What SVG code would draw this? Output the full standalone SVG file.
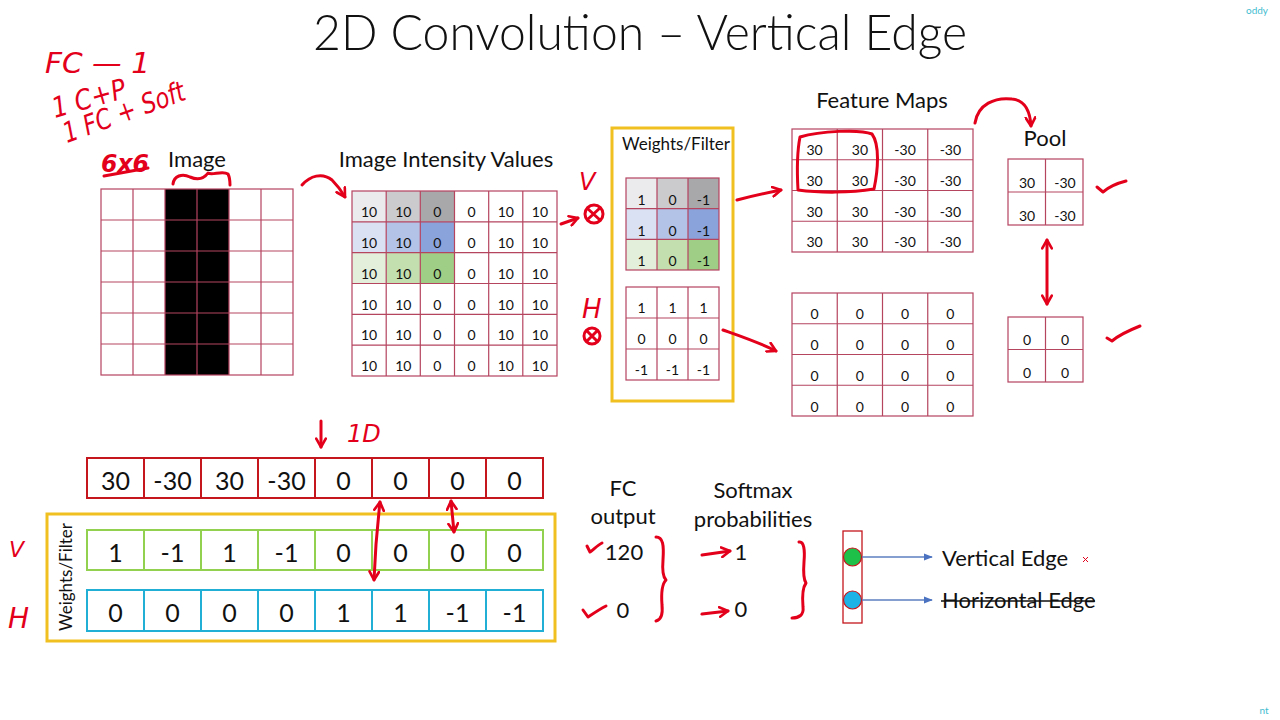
<svg xmlns="http://www.w3.org/2000/svg" width="1280" height="720" viewBox="0 0 1280 720">
<defs>
<style>
.t{font-family:Lato,"Liberation Sans",sans-serif;fill:#111;}
.lbl{font-size:22px;text-anchor:middle;}
.sm{font-size:14px;text-anchor:middle;}
.big{font-size:25px;text-anchor:middle;}
.grid{fill:none;stroke:#b5445f;stroke-width:1.2;}
.hw{fill:none;stroke:#e3001b;stroke-width:3;stroke-linecap:round;stroke-linejoin:round;}
.hwt{font-family:"DejaVu Sans","Liberation Sans",sans-serif;fill:#e3001b;font-style:oblique;}
.yb{fill:none;stroke:#f0c020;stroke-width:3;}
.r1d{fill:#fff;stroke:#c4161c;stroke-width:2;}
.rg{fill:#fff;stroke:#92d050;stroke-width:2;}
.rb{fill:#fff;stroke:#21afd6;stroke-width:2;}
.blue{stroke:#5b7fc0;stroke-width:1.3;fill:none;}
</style>
<marker id="ah" viewBox="0 0 10 10" refX="8" refY="5" markerWidth="4" markerHeight="4" orient="auto-start-reverse" markerUnits="strokeWidth">
<path d="M1,1 L8,5 L1,9" fill="none" stroke="#e3001b" stroke-width="2.2" stroke-linecap="round" stroke-linejoin="round"/>
</marker>
<marker id="bh" viewBox="0 0 10 10" refX="9" refY="5" markerWidth="7" markerHeight="7" orient="auto" markerUnits="strokeWidth">
<path d="M0,1 L10,5 L0,9 Z" fill="#4a72c0"/>
</marker>
</defs>
<rect width="1280" height="720" fill="#fff"/>

<text class="t" x="313" y="50" font-size="50" font-weight="300" textLength="654" lengthAdjust="spacingAndGlyphs">2D Convolution – Vertical Edge</text>

<g id="image">
<text class="t lbl" x="197" y="167">Image</text>
<rect x="165" y="189" width="64" height="186" fill="#000"/>
<rect class="grid" x="101" y="189" width="192" height="186"/>
<path class="grid" d="M133,189V375M165,189V375M197,189V375M229,189V375M261,189V375M101,220H293M101,251H293M101,282H293M101,313H293M101,344H293"/>
</g>

<g id="intensity">
<text class="t lbl" x="446" y="167">Image Intensity Values</text>
<rect x="352" y="191" width="34.2" height="30.8" fill="#ebebee"/>
<rect x="386.2" y="191" width="34.1" height="30.8" fill="#cbcbcd"/>
<rect x="420.3" y="191" width="34.2" height="30.8" fill="#a8a8aa"/>
<rect x="352" y="221.8" width="34.2" height="30.9" fill="#dae1f2"/>
<rect x="386.2" y="221.8" width="34.1" height="30.9" fill="#b3c3e8"/>
<rect x="420.3" y="221.8" width="34.2" height="30.9" fill="#8aa3db"/>
<rect x="352" y="252.7" width="34.2" height="30.8" fill="#e3efdb"/>
<rect x="386.2" y="252.7" width="34.1" height="30.8" fill="#c3dfb0"/>
<rect x="420.3" y="252.7" width="34.2" height="30.8" fill="#9fcf87"/>
<rect class="grid" x="352" y="191" width="205" height="185"/>
<path class="grid" d="M386.2,191V376M420.3,191V376M454.5,191V376M488.7,191V376M522.8,191V376M352,221.8H557M352,252.7H557M352,283.5H557M352,314.3H557M352,345.2H557"/>
<g class="t sm">
<text x="369.1" y="217">10</text><text x="403.3" y="217">10</text><text x="437.4" y="217">0</text><text x="471.6" y="217">0</text><text x="505.8" y="217">10</text><text x="539.9" y="217">10</text>
<text x="369.1" y="248">10</text><text x="403.3" y="248">10</text><text x="437.4" y="248">0</text><text x="471.6" y="248">0</text><text x="505.8" y="248">10</text><text x="539.9" y="248">10</text>
<text x="369.1" y="279">10</text><text x="403.3" y="279">10</text><text x="437.4" y="279">0</text><text x="471.6" y="279">0</text><text x="505.8" y="279">10</text><text x="539.9" y="279">10</text>
<text x="369.1" y="310">10</text><text x="403.3" y="310">10</text><text x="437.4" y="310">0</text><text x="471.6" y="310">0</text><text x="505.8" y="310">10</text><text x="539.9" y="310">10</text>
<text x="369.1" y="340">10</text><text x="403.3" y="340">10</text><text x="437.4" y="340">0</text><text x="471.6" y="340">0</text><text x="505.8" y="340">10</text><text x="539.9" y="340">10</text>
<text x="369.1" y="371">10</text><text x="403.3" y="371">10</text><text x="437.4" y="371">0</text><text x="471.6" y="371">0</text><text x="505.8" y="371">10</text><text x="539.9" y="371">10</text>
</g>
</g>

<g id="filters">
<rect class="yb" x="612" y="128" width="121" height="273"/>
<text class="t" x="676" y="150" font-size="17" text-anchor="middle">Weights/Filter</text>
<rect x="626" y="178" width="31" height="30.7" fill="#ebebee"/>
<rect x="657" y="178" width="31" height="30.7" fill="#cbcbcd"/>
<rect x="688" y="178" width="31" height="30.7" fill="#a8a8aa"/>
<rect x="626" y="208.7" width="31" height="30.6" fill="#dae1f2"/>
<rect x="657" y="208.7" width="31" height="30.6" fill="#b3c3e8"/>
<rect x="688" y="208.7" width="31" height="30.6" fill="#8aa3db"/>
<rect x="626" y="239.3" width="31" height="30.7" fill="#e3efdb"/>
<rect x="657" y="239.3" width="31" height="30.7" fill="#c3dfb0"/>
<rect x="688" y="239.3" width="31" height="30.7" fill="#9fcf87"/>
<rect class="grid" x="626" y="178" width="93" height="92"/>
<path class="grid" d="M657,178V270M688,178V270M626,208.7H719M626,239.3H719"/>
<rect class="grid" x="626" y="287" width="93" height="93"/>
<path class="grid" d="M657,287V380M688,287V380M626,318H719M626,349H719"/>
<g class="t sm">
<text x="641.5" y="205">1</text><text x="672.5" y="205">0</text><text x="703.5" y="205">-1</text>
<text x="641.5" y="236">1</text><text x="672.5" y="236">0</text><text x="703.5" y="236">-1</text>
<text x="641.5" y="266">1</text><text x="672.5" y="266">0</text><text x="703.5" y="266">-1</text>
<text x="641.5" y="313">1</text><text x="672.5" y="313">1</text><text x="703.5" y="313">1</text>
<text x="641.5" y="344">0</text><text x="672.5" y="344">0</text><text x="703.5" y="344">0</text>
<text x="641.5" y="375">-1</text><text x="672.5" y="375">-1</text><text x="703.5" y="375">-1</text>
</g>
</g>

<g id="featuremaps">
<text class="t lbl" x="882" y="108">Feature Maps</text>
<rect class="grid" x="792" y="129" width="181" height="123"/>
<path class="grid" d="M837.25,129V252M882.5,129V252M927.75,129V252M792,159.75H973M792,190.5H973M792,221.25H973"/>
<rect class="grid" x="792" y="293" width="181" height="123"/>
<path class="grid" d="M837.25,293V416M882.5,293V416M927.75,293V416M792,323.75H973M792,354.5H973M792,385.25H973"/>
<g class="t sm">
<text x="814.6" y="155">30</text><text x="859.9" y="155">30</text><text x="905.1" y="155">-30</text><text x="950.4" y="155">-30</text>
<text x="814.6" y="186">30</text><text x="859.9" y="186">30</text><text x="905.1" y="186">-30</text><text x="950.4" y="186">-30</text>
<text x="814.6" y="217">30</text><text x="859.9" y="217">30</text><text x="905.1" y="217">-30</text><text x="950.4" y="217">-30</text>
<text x="814.6" y="247">30</text><text x="859.9" y="247">30</text><text x="905.1" y="247">-30</text><text x="950.4" y="247">-30</text>
<text x="814.6" y="319">0</text><text x="859.9" y="319">0</text><text x="905.1" y="319">0</text><text x="950.4" y="319">0</text>
<text x="814.6" y="350">0</text><text x="859.9" y="350">0</text><text x="905.1" y="350">0</text><text x="950.4" y="350">0</text>
<text x="814.6" y="381">0</text><text x="859.9" y="381">0</text><text x="905.1" y="381">0</text><text x="950.4" y="381">0</text>
<text x="814.6" y="412">0</text><text x="859.9" y="412">0</text><text x="905.1" y="412">0</text><text x="950.4" y="412">0</text>
</g>
</g>

<g id="pool">
<text class="t lbl" x="1045" y="146">Pool</text>
<rect class="grid" x="1008" y="159" width="75" height="66"/>
<path class="grid" d="M1045.5,159V225M1008,192H1083"/>
<rect class="grid" x="1008" y="317" width="75" height="65"/>
<path class="grid" d="M1045.5,317V382M1008,349.5H1083"/>
<g class="t sm">
<text x="1027" y="188">30</text><text x="1065" y="188">-30</text>
<text x="1027" y="221">30</text><text x="1065" y="221">-30</text>
<text x="1027" y="345">0</text><text x="1065" y="345">0</text>
<text x="1027" y="378">0</text><text x="1065" y="378">0</text>
</g>
</g>

<g id="flat1d">
<rect class="r1d" x="87" y="458" width="456" height="40"/>
<path class="r1d" d="M144,458V498M201,458V498M258,458V498M315,458V498M372,458V498M429,458V498M486,458V498"/>
<g class="t big">
<text x="115.5" y="490">30</text><text x="172.5" y="490">-30</text><text x="229.5" y="490">30</text><text x="286.5" y="490">-30</text><text x="343.5" y="490">0</text><text x="400.5" y="490">0</text><text x="457.5" y="490">0</text><text x="514.5" y="490">0</text>
</g>
</g>

<g id="fcweights">
<rect class="yb" x="47" y="514" width="508" height="127"/>
<text class="t" x="0" y="0" font-size="17" text-anchor="middle" transform="translate(72,577) rotate(-90)">Weights/Filter</text>
<rect class="rg" x="87" y="530" width="456" height="40"/>
<path class="rg" d="M144,530V570M201,530V570M258,530V570M315,530V570M372,530V570M429,530V570M486,530V570"/>
<rect class="rb" x="87" y="590" width="456" height="41"/>
<path class="rb" d="M144,590V631M201,590V631M258,590V631M315,590V631M372,590V631M429,590V631M486,590V631"/>
<g class="t big">
<text x="115.5" y="562">1</text><text x="172.5" y="562">-1</text><text x="229.5" y="562">1</text><text x="286.5" y="562">-1</text><text x="343.5" y="562">0</text><text x="400.5" y="562">0</text><text x="457.5" y="562">0</text><text x="514.5" y="562">0</text>
<text x="115.5" y="622">0</text><text x="172.5" y="622">0</text><text x="229.5" y="622">0</text><text x="286.5" y="622">0</text><text x="343.5" y="622">1</text><text x="400.5" y="622">1</text><text x="457.5" y="622">-1</text><text x="514.5" y="622">-1</text>
</g>
</g>

<g id="fcoutput">
<text class="t lbl" x="623" y="496">FC</text>
<text class="t lbl" x="623" y="524">output</text>
<text class="t lbl" x="624" y="560">120</text>
<text class="t lbl" x="623" y="618">0</text>
</g>

<g id="softmax">
<text class="t lbl" x="753" y="498">Softmax</text>
<text class="t lbl" x="753" y="527">probabilities</text>
<text class="t lbl" x="741" y="560">1</text>
<text class="t lbl" x="741" y="617">0</text>
</g>

<g id="outputs">
<rect x="843" y="531" width="19" height="92" fill="#fff" stroke="#c4161c" stroke-width="1.3"/>
<circle cx="852.5" cy="557" r="9" fill="#1ec04a" stroke="#c4161c" stroke-width="1.2"/>
<circle cx="852.5" cy="600" r="9" fill="#1eb3e6" stroke="#c4161c" stroke-width="1.2"/>
<text class="t" x="942" y="566" font-size="22">Vertical Edge</text>
<text class="t" x="942" y="608" font-size="22">Horizontal Edge</text>
<line x1="941" y1="601" x2="1095" y2="601" stroke="#111" stroke-width="1.5"/>
</g>

<g id="connectors">
<line class="blue" x1="862" y1="557" x2="932" y2="557" marker-end="url(#bh)"/>
<line class="blue" x1="862" y1="600" x2="932" y2="600" marker-end="url(#bh)"/>
</g>

<g id="handwriting">
<text class="hwt" x="45" y="73" font-size="28" textLength="105" lengthAdjust="spacingAndGlyphs">FC — 1</text>
<text class="hwt" x="0" y="0" font-size="28" transform="translate(55,118) rotate(-16)" textLength="76" lengthAdjust="spacingAndGlyphs">1 C+P</text>
<text class="hwt" x="0" y="0" font-size="28" transform="translate(67,143) rotate(-20)" textLength="128" lengthAdjust="spacingAndGlyphs">1 FC + Soft</text>
<text class="hwt" x="101" y="172" font-size="24" font-weight="bold" textLength="48" lengthAdjust="spacingAndGlyphs">6x6</text>
<path class="hw" d="M104,176 L148,168"/>
<path class="hw" d="M173,184 C174,176 182,173 190,177 C197,180 203,180 208,173 C212,176 222,170 228,174 C230,178 230,182 230,185"/>
<path class="hw" d="M302,185 C310,176 322,172 332,180 C338,186 342,192 345,197" marker-end="url(#ah)"/>
<text class="hwt" x="579" y="190" font-size="24">V</text>
<path class="hw" d="M561,224 L578,218" marker-end="url(#ah)"/>
<circle class="hw" cx="594" cy="214" r="9"/>
<path class="hw" d="M588,209 L600,220 M600,208 L588,219"/>
<text class="hwt" x="582" y="318" font-size="26">H</text>
<circle class="hw" cx="592" cy="336" r="8"/>
<path class="hw" d="M587,331 L597,341 M597,331 L587,341"/>
<path class="hw" d="M737,200 C752,196 766,193 781,190" marker-end="url(#ah)"/>
<path class="hw" d="M723,330 C740,336 758,342 776,351" marker-end="url(#ah)"/>
<path class="hw" d="M800,137 C820,131 860,129 872,134 C880,145 878,170 874,189 C850,193 820,193 798,190 C797,172 797,152 800,137 Z"/>
<path class="hw" d="M975,123 C978,104 995,97 1012,99 C1024,100 1030,110 1031,126" marker-end="url(#ah)"/>
<path class="hw" d="M1097,187 L1103,192 C1110,186 1118,183 1126,181"/>
<path class="hw" d="M1107,338 L1112,341 C1120,334 1130,330 1140,326"/>
<path class="hw" d="M1047,240 L1047,304" marker-start="url(#ah)" marker-end="url(#ah)"/>
<path class="hw" d="M321,421 L321,447" marker-end="url(#ah)"/>
<text class="hwt" x="347" y="442" font-size="24">1D</text>
<path class="hw" d="M380,502 C377,528 375,555 374,580" marker-start="url(#ah)" marker-end="url(#ah)"/>
<path class="hw" d="M451,501 L454,532" marker-start="url(#ah)" marker-end="url(#ah)"/>
<text class="hwt" x="9" y="557" font-size="22">V</text>
<text class="hwt" x="8" y="628" font-size="28">H</text>
<path class="hw" d="M587,546 L590,552 C594,549 598,545 602,543"/>
<path class="hw" d="M583,610 L588,617 C594,613 600,609 606,606"/>
<path class="hw" d="M656,537 C663,537 664,545 663,560 C662,572 663,577 666,580 C662,584 661,592 662,605 C663,615 661,620 656,621"/>
<path class="hw" d="M799,542 C804,541 805,550 804,562 C803,575 804,580 806,583 C803,587 802,595 803,607 C804,615 799,618 792,618"/>
<path class="hw" d="M702,555 L730,551" marker-end="url(#ah)"/>
<path class="hw" d="M702,614 L728,611" marker-end="url(#ah)"/>
<path d="M1083,557 L1088,562 M1088,557 L1083,562" stroke="#e3001b" stroke-width="1"/>
</g>

<text x="1257" y="14" font-family="Lato,sans-serif" font-size="10" fill="#3fbdd0" text-anchor="middle">oddy</text>
<text x="1264" y="714" font-family="Lato,sans-serif" font-size="10" fill="#3fbdd0" text-anchor="middle">nt</text>
</svg>
